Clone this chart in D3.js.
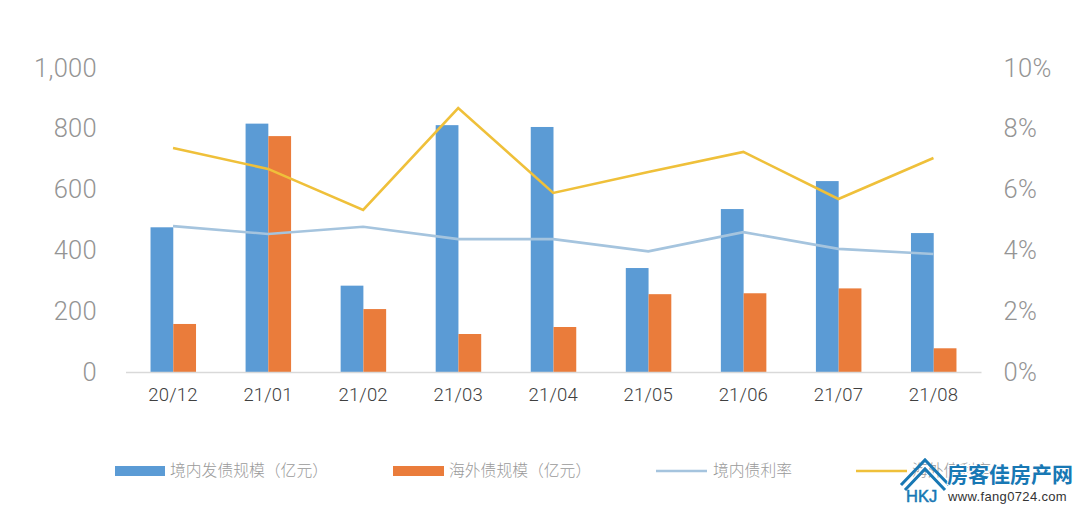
<!DOCTYPE html>
<html>
<head>
<meta charset="utf-8">
<script src="https://cdn.jsdelivr.net/npm/d3@7/dist/d3.min.js"></script>
<style>
html,body{margin:0;padding:0;background:#fff;}
svg{display:block;}
text{font-family:"Noto Sans CJK SC",sans-serif;}
</style>
</head>
<body>
<svg id="chart" width="1080" height="509"></svg>
<script>
// Monthly bond issuance (100M yuan) and coupon rates (%)
const months = ["20/12","21/01","21/02","21/03","21/04","21/05","21/06","21/07","21/08"];
const domesticSize = [476,817,284,812,806,342,536,628,457];
const overseasSize = [158,776,207,125,148,256,259,275,78];
const domesticRate = [4.80,4.54,4.78,4.37,4.37,3.97,4.60,4.05,3.88];
const overseasRate = [7.37,6.68,5.33,8.68,5.89,6.58,7.24,5.69,7.04];
const leftTicks = [0,200,400,600,800,1000];
const rightTicks = [0,2,4,6,8,10];
const legendNames = ["境内发债规模（亿元）","海外债规模（亿元）","境内债利率","海外债利率"];
const brandName = "房客佳房产网";
const brandUrl = "www.fang0724.com";

const colors = {blue:"#5b9bd5", orange:"#ea7c3b", rate:"#a5c4de", gold:"#efc03a", axis:"#d9d9d9", tick:"#949494", cat:"#404040", legend:"#9a9a9a", brand:"#1878b4"};
const numberFont = "Roboto,'Open Sans',sans-serif";

const svg = d3.select("#chart");
const x = d3.scaleBand().domain(months).range([125.5,981]);
const bar = d3.scaleBand().domain(["a","b"]).range([0,45.5]);
const y = d3.scaleLinear().domain([0,1000]).range([372,68]);
const yr = d3.scaleLinear().domain([0,10]).range([372,68]);
const cx = m => x(m)+x.bandwidth()/2;
const barLeft = m => cx(m)-22.5;

// Bars
const plotBars = (values, key, color) => svg.append("g").selectAll("rect").data(months).join("rect")
  .attr("x",m=>barLeft(m)+bar(key)).attr("width",bar.bandwidth())
  .attr("y",(m,i)=>y(values[i])).attr("height",(m,i)=>y(0)-y(values[i]))
  .attr("fill",color);
plotBars(domesticSize,"a",colors.blue);
plotBars(overseasSize,"b",colors.orange);

// Category baseline and labels
const xAxis = svg.append("g").attr("transform","translate(0,372)")
  .call(d3.axisBottom(x).tickSize(0).tickPadding(16));
xAxis.select(".domain").attr("stroke",colors.axis).attr("stroke-width",1.5);
xAxis.selectAll("text").attr("font-size",18.5).attr("fill",colors.cat).attr("font-weight",300).attr("letter-spacing",0.2).style("font-family",numberFont);

// Value axes
const leftAxis = svg.append("g").attr("transform","translate(97,0)")
  .call(d3.axisLeft(y).tickValues(leftTicks).tickSize(0).tickPadding(0).tickFormat(d3.format(",")));
const rightAxis = svg.append("g").attr("transform","translate(1003.5,0)")
  .call(d3.axisRight(yr).tickValues(rightTicks).tickSize(0).tickPadding(0).tickFormat(d=>d+"%"));
[leftAxis,rightAxis].forEach(a=>{
  a.select(".domain").remove();
  a.selectAll("text").attr("font-size",25.5).attr("fill",colors.tick).attr("font-weight",300).attr("letter-spacing",0.3).style("font-family",numberFont);
});

// Rate lines
const line = d3.line().x((d,i)=>cx(months[i])).y(d=>yr(d));
svg.append("path").datum(domesticRate).attr("d",line).attr("fill","none").attr("stroke",colors.rate).attr("stroke-width",2.6);
svg.append("path").datum(overseasRate).attr("d",line).attr("fill","none").attr("stroke",colors.gold).attr("stroke-width",2.6);

// Legend
const legend = svg.append("g");
const items = [
  {x:115,w:50,textX:170,kind:"bar",color:colors.blue},
  {x:393,w:51,textX:449,kind:"bar",color:colors.orange},
  {x:656,w:51,textX:713,kind:"line",color:colors.rate},
  {x:856,w:51,textX:912,kind:"line",color:colors.gold}
];
items.forEach((it,i)=>{
  if(it.kind==="bar") legend.append("rect").attr("x",it.x).attr("y",466).attr("width",it.w).attr("height",10).attr("fill",it.color);
  else legend.append("line").attr("x1",it.x).attr("x2",it.x+it.w).attr("y1",471).attr("y2",471).attr("stroke",it.color).attr("stroke-width",2.6);
  legend.append("text").attr("x",it.textX).attr("y",475.5).attr("font-size",15.8).attr("fill",colors.legend).attr("font-weight",300).text(legendNames[i]);
});

// Site mark in the lower right corner
const brand = svg.append("g");
brand.append("path").attr("d","M901 485 L925 460 L949 485").attr("fill","none").attr("stroke",colors.brand).attr("stroke-width",3);
brand.append("path").attr("d","M907 486 L925 467 L943 486").attr("fill","none").attr("stroke","#fff").attr("stroke-width",3);
brand.append("path").attr("d","M905 490 L925 469 L945 490").attr("fill","none").attr("stroke",colors.brand).attr("stroke-width",3);
brand.append("text").attr("x",906).attr("y",502).attr("font-size",16.5).attr("font-weight",400).attr("fill",colors.brand).attr("stroke",colors.brand).attr("stroke-width",0.5).style("font-family","'Liberation Sans',sans-serif").text("HKJ");
brand.append("text").attr("x",947).attr("y",481.5).attr("font-size",21).attr("font-weight",700).attr("fill",colors.brand).style("font-family","'Noto Sans CJK SC',sans-serif").text(brandName)
  .attr("stroke","#fff").attr("stroke-width",2).attr("paint-order","stroke");
brand.append("text").attr("x",948).attr("y",501).attr("font-size",13).attr("fill","#333").style("font-family","'Liberation Sans',sans-serif").attr("letter-spacing",0.35).text(brandUrl);
</script>
</body>
</html>
